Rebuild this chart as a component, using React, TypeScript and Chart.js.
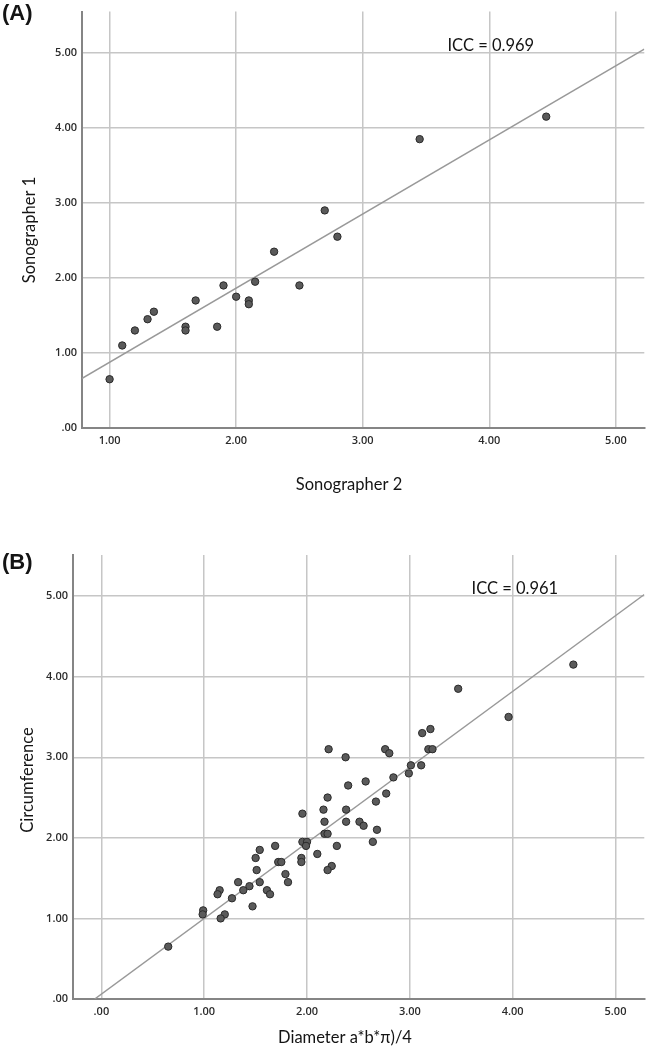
import React, { useEffect, useRef } from "react";
import { Chart, registerables } from "chart.js";

Chart.register(...registerables);

// ---------- Panel A: Sonographer 2 (x) vs Sonographer 1 (y) ----------
const sonographer2 = [1.0, 1.1, 1.2, 1.3, 1.35, 1.6, 1.6, 1.68, 1.85, 1.9, 2.0, 2.1, 2.1, 2.15, 2.3, 2.5, 2.7, 2.8, 3.45, 4.45];
const sonographer1 = [0.65, 1.1, 1.3, 1.45, 1.55, 1.35, 1.3, 1.7, 1.35, 1.9, 1.75, 1.7, 1.65, 1.95, 2.35, 1.9, 2.9, 2.55, 3.85, 4.15];
const fitLineAX = [0.78, 5.225];
const fitLineAY = [0.66, 5.05];
const xTicksA = [1, 2, 3, 4, 5];
const yTicksA = [0, 1, 2, 3, 4, 5];
const iccA = "ICC = 0.969";

// ---------- Panel B: Diameter a*b*pi/4 (x) vs Circumference (y) ----------
const diameterB = [
  4.59, 3.47, 3.96, 3.12, 3.2, 3.18, 3.22, 2.21, 2.76, 2.8, 2.375, 3.01, 3.11, 2.99, 2.84, 2.57, 2.4, 2.77, 2.2, 2.67,
  1.955, 2.16, 2.38, 2.17, 2.38, 2.51, 2.55, 2.68, 2.17, 2.2, 1.955, 2.0, 1.99, 2.64, 2.29, 2.1, 1.945, 1.945, 2.24, 2.2,
  1.69, 1.54, 1.5, 1.51, 1.72, 1.75, 1.79, 1.815, 1.54, 1.44, 1.38, 1.33, 1.61, 1.64, 1.27, 1.15, 1.13, 1.47, 1.2, 1.16,
  0.99, 0.985, 0.65,
];
const circumferenceB = [
  4.15, 3.85, 3.5, 3.3, 3.35, 3.1, 3.1, 3.1, 3.1, 3.05, 3.0, 2.9, 2.9, 2.8, 2.75, 2.7, 2.65, 2.55, 2.5, 2.45,
  2.3, 2.35, 2.35, 2.2, 2.2, 2.2, 2.15, 2.1, 2.05, 2.05, 1.95, 1.95, 1.9, 1.95, 1.9, 1.8, 1.75, 1.7, 1.65, 1.6,
  1.9, 1.85, 1.75, 1.6, 1.7, 1.7, 1.55, 1.45, 1.45, 1.4, 1.35, 1.45, 1.35, 1.3, 1.25, 1.35, 1.3, 1.15, 1.05, 1.0,
  1.1, 1.05, 0.65,
];
const fitLineBX = [-0.065, 5.28];
const fitLineBY = [0.0, 5.02];
const xTicksB = [0, 1, 2, 3, 4, 5];
const yTicksB = [0, 1, 2, 3, 4, 5];
const iccB = "ICC = 0.961";

const fmt = (v: number) => (Math.abs(v) < 1e-9 ? ".00" : v.toFixed(2));

type TextItem = {
  text: string;
  x: number;
  y: number;
  font: string;
  align?: CanvasTextAlign;
  baseline?: CanvasTextBaseline;
  rotate?: boolean;
  data?: boolean;
};

type PanelCfg = {
  width: number;
  height: number;
  xs: number[];
  ys: number[];
  fitX: number[];
  fitY: number[];
  xTicks: number[];
  yTicks: number[];
  xMin: number;
  xMax: number;
  yMin: number;
  yMax: number;
  yAxisW: number;
  xAxisH: number;
  padTop: number;
  padRight: number;
  texts: TextItem[];
};

const textPlugin = {
  id: "panelTexts",
  afterDraw(chart: any, _args: any, opts: any) {
    const ctx: CanvasRenderingContext2D = chart.ctx;
    const items: TextItem[] = opts.items || [];
    items.forEach((t) => {
      let px = t.x;
      let py = t.y;
      if (t.data) {
        px = chart.scales.x.getPixelForValue(t.x);
        py = chart.scales.y.getPixelForValue(t.y);
      }
      ctx.save();
      ctx.fillStyle = "#141414";
      ctx.font = t.font;
      ctx.textAlign = t.align || "center";
      ctx.textBaseline = t.baseline || "middle";
      ctx.translate(px, py);
      if (t.rotate) ctx.rotate(-Math.PI / 2);
      ctx.fillText(t.text, 0, 0);
      ctx.restore();
    });
  },
};

const GRID = "#c6c6c6";
const AXIS = "#858585";
const TICK_FONT = { family: "'Open Sans', sans-serif", size: 11, weight: "600" as any };

function Panel({ cfg }: { cfg: PanelCfg }) {
  const ref = useRef<HTMLCanvasElement | null>(null);
  useEffect(() => {
    if (!ref.current) return;
    const points = cfg.xs.map((x, i) => ({ x, y: cfg.ys[i] }));
    const line = cfg.fitX.map((x, i) => ({ x, y: cfg.fitY[i] }));
    const chart = new Chart(ref.current, {
      type: "scatter",
      data: {
        datasets: [
          {
            label: "points",
            data: points,
            backgroundColor: "#5a5a5a",
            borderColor: "#2a2a2a",
            borderWidth: 1,
            pointRadius: 3.7,
            pointHoverRadius: 3.7,
          },
          {
            label: "fit",
            type: "line",
            data: line,
            borderColor: "#999999",
            borderWidth: 1.5,
            pointRadius: 0,
            fill: false,
            tension: 0,
          } as any,
        ],
      },
      options: {
        animation: false,
        responsive: false,
        devicePixelRatio: 1,
        layout: { padding: { top: cfg.padTop, right: cfg.padRight, left: 0, bottom: 0 } },
        plugins: {
          legend: { display: false },
          tooltip: { enabled: false },
          panelTexts: { items: cfg.texts },
        } as any,
        scales: {
          x: {
            type: "linear",
            min: cfg.xMin,
            max: cfg.xMax,
            afterBuildTicks: (s: any) => {
              s.ticks = cfg.xTicks.map((v) => ({ value: v }));
            },
            afterFit: (s: any) => {
              s.height = cfg.xAxisH;
            },
            grid: { color: GRID, lineWidth: 1.5, drawTicks: false },
            border: { color: AXIS, width: 2 },
            ticks: {
              callback: (v: any) => fmt(Number(v)),
              font: TICK_FONT,
              color: "#2b2b2b",
              padding: 6,
              maxRotation: 0,
              autoSkip: false,
            },
          },
          y: {
            type: "linear",
            min: cfg.yMin,
            max: cfg.yMax,
            afterBuildTicks: (s: any) => {
              s.ticks = cfg.yTicks.map((v) => ({ value: v }));
            },
            afterFit: (s: any) => {
              s.width = cfg.yAxisW;
            },
            grid: { color: GRID, lineWidth: 1.5, drawTicks: false },
            border: { color: AXIS, width: 2 },
            ticks: {
              callback: (v: any) => fmt(Number(v)),
              font: TICK_FONT,
              color: "#2b2b2b",
              padding: 5,
              autoSkip: false,
            },
          },
        },
      },
      plugins: [textPlugin as any],
    });
    return () => chart.destroy();
  }, [cfg]);
  return (
    <canvas
      ref={ref}
      width={cfg.width}
      height={cfg.height}
      style={{ display: "block", width: cfg.width, height: cfg.height }}
    />
  );
}

const TITLE_FONT = "16.5px Lato, 'Open Sans', sans-serif";
const PANEL_FONT = "bold 22px 'Liberation Sans', Arial, sans-serif";

const cfgA: PanelCfg = {
  width: 649,
  height: 520,
  xs: sonographer2,
  ys: sonographer1,
  fitX: fitLineAX,
  fitY: fitLineAY,
  xTicks: xTicksA,
  yTicks: yTicksA,
  xMin: 0.782,
  xMax: 5.225,
  yMin: 0,
  yMax: 5.55,
  yAxisW: 82,
  xAxisH: 92,
  padTop: 6,
  padRight: 4,
  texts: [
    { text: "(A)", x: 2, y: 3, font: PANEL_FONT, align: "left", baseline: "top" },
    { text: iccA, x: 3.67, y: 5.09, font: TITLE_FONT, align: "left", data: true },
    { text: "Sonographer 2", x: 349, y: 485, font: TITLE_FONT },
    { text: "Sonographer 1", x: 30, y: 230, font: TITLE_FONT, rotate: true },
  ],
};

const cfgB: PanelCfg = {
  width: 649,
  height: 523,
  xs: diameterB,
  ys: circumferenceB,
  fitX: fitLineBX,
  fitY: fitLineBY,
  xTicks: xTicksB,
  yTicks: yTicksB,
  xMin: -0.276,
  xMax: 5.28,
  yMin: 0,
  yMax: 5.51,
  yAxisW: 73,
  xAxisH: 54,
  padTop: 25,
  padRight: 4,
  texts: [
    { text: "(B)", x: 2, y: 22, font: PANEL_FONT, align: "left", baseline: "top" },
    { text: iccB, x: 3.6, y: 5.09, font: TITLE_FONT, align: "left", data: true },
    { text: "Diameter a*b*π)/4", x: 345, y: 508, font: TITLE_FONT },
    { text: "Circumference", x: 28, y: 250, font: TITLE_FONT, rotate: true },
  ],
};

export default function App() {
  return (
    <div style={{ position: "absolute", left: 0, top: 0, width: 649, height: 1053, background: "#fff" }}>
      <div style={{ position: "absolute", left: 0, top: 0 }}>
        <Panel cfg={cfgA} />
      </div>
      <div style={{ position: "absolute", left: 0, top: 530 }}>
        <Panel cfg={cfgB} />
      </div>
    </div>
  );
}
